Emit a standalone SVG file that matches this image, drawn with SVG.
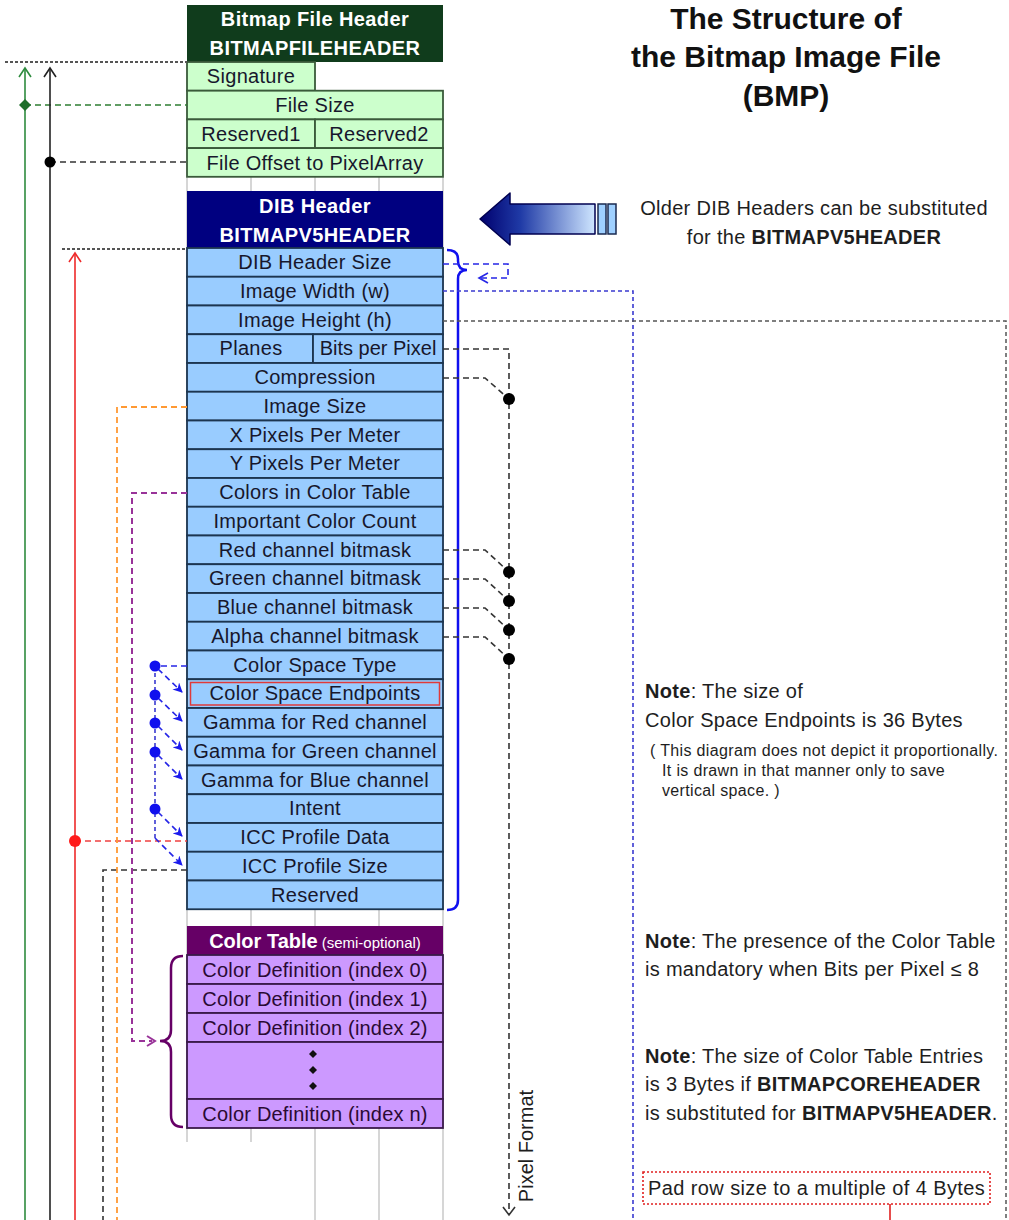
<svg xmlns="http://www.w3.org/2000/svg" width="1009" height="1220" viewBox="0 0 1009 1220">
<defs>
<style>
text{font-family:"Liberation Sans",Arial,Helvetica,sans-serif}
.row{font-size:20px;fill:#17172c;text-anchor:middle;letter-spacing:0.3px}
.prow{font-size:20px;fill:#2a0a33;text-anchor:middle;letter-spacing:0.2px}
.hd{font-size:20px;font-weight:bold;fill:#ffffff;text-anchor:middle;letter-spacing:0.4px}
.note{font-size:20px;fill:#1e1e1e;letter-spacing:0.3px}
.small{font-size:16px;fill:#1e1e1e;letter-spacing:0.35px}
.ttl{font-size:30px;font-weight:bold;fill:#111;text-anchor:middle}
.g{fill:#ccffcc;stroke:#3a5a3a;stroke-width:1.8}
.b{fill:#99ccff;stroke:#1c3550;stroke-width:1.8}
.p{fill:#cc99ff;stroke:#3a1a4a;stroke-width:1.8}
.grid{stroke:#c8c8c8;stroke-width:1.5}
.dk{fill:none;stroke:#333;stroke-width:1.6;stroke-dasharray:6 4}
.dot{fill:none;stroke:#555;stroke-width:2;stroke-dasharray:3 2}
.bl{fill:none;stroke:#2626e6;stroke-width:1.6;stroke-dasharray:6 4}
.bld{fill:none;stroke:#3a3ad0;stroke-width:1.6;stroke-dasharray:4 3}
</style>
<linearGradient id="ag" x1="0" y1="0" x2="1" y2="0">
<stop offset="0" stop-color="#00006e"/>
<stop offset="0.35" stop-color="#1f3aa6"/>
<stop offset="1" stop-color="#cfe6ff"/>
</linearGradient>
<marker id="ab" viewBox="0 0 10 10" refX="9" refY="5" markerWidth="6" markerHeight="6" orient="auto">
<path d="M0,0 L10,5 L0,10 L3,5 Z" fill="#1a1aee"/>
</marker>
</defs>
<rect width="1009" height="1220" fill="#ffffff"/>

<g id="grid">
<line class="grid" x1="187" y1="177" x2="187" y2="1142"/>
<line class="grid" x1="251" y1="177" x2="251" y2="1142"/>
<line class="grid" x1="315" y1="177" x2="315" y2="1220"/>
<line class="grid" x1="379" y1="177" x2="379" y2="1220"/>
<line class="grid" x1="443" y1="177" x2="443" y2="1220"/>
</g>

<g id="title">
<text class="ttl" x="786" y="29">The Structure of</text>
<text class="ttl" x="786" y="67">the Bitmap Image File</text>
<text class="ttl" x="786" y="106">(BMP)</text>
</g>

<g id="file-header">
<rect x="187" y="5" width="256" height="57" fill="#103c1c"/>
<text class="hd" x="315" y="26">Bitmap File Header</text>
<text class="hd" x="315" y="55">BITMAPFILEHEADER</text>
<rect class="g" x="187" y="62" width="128" height="28.7"/>
<text class="row" x="251" y="83">Signature</text>
<rect class="g" x="187" y="90.7" width="256" height="28.7"/>
<text class="row" x="315" y="112">File Size</text>
<rect class="g" x="187" y="119.4" width="128" height="28.7"/>
<rect class="g" x="315" y="119.4" width="128" height="28.7"/>
<text class="row" x="251" y="141">Reserved1</text>
<text class="row" x="379" y="141">Reserved2</text>
<rect class="g" x="187" y="148.1" width="256" height="28.7"/>
<text class="row" x="315" y="169.5">File Offset to PixelArray</text>
</g>

<g id="dib-header">
<rect x="187" y="191" width="256" height="57" fill="#000080"/>
<text class="hd" x="315" y="213">DIB Header</text>
<text class="hd" x="315" y="242">BITMAPV5HEADER</text>
<rect class="b" x="187" y="248" width="256" height="28.75"/>
<text class="row" x="315" y="269">DIB Header Size</text>
<rect class="b" x="187" y="276.75" width="256" height="28.75"/>
<text class="row" x="315" y="298">Image Width (w)</text>
<rect class="b" x="187" y="305.5" width="256" height="28.75"/>
<text class="row" x="315" y="326.5">Image Height (h)</text>
<rect class="b" x="187" y="334.25" width="126" height="28.75"/>
<rect class="b" x="313" y="334.25" width="130" height="28.75"/>
<text class="row" x="251" y="355">Planes</text>
<text class="row" x="378" y="355" style="letter-spacing:0">Bits per Pixel</text>
<rect class="b" x="187" y="363" width="256" height="28.75"/>
<text class="row" x="315" y="384">Compression</text>
<rect class="b" x="187" y="391.75" width="256" height="28.75"/>
<text class="row" x="315" y="413">Image Size</text>
<rect class="b" x="187" y="420.5" width="256" height="28.75"/>
<text class="row" x="315" y="441.5">X Pixels Per Meter</text>
<rect class="b" x="187" y="449.25" width="256" height="28.75"/>
<text class="row" x="315" y="470">Y Pixels Per Meter</text>
<rect class="b" x="187" y="478" width="256" height="28.75"/>
<text class="row" x="315" y="499">Colors in Color Table</text>
<rect class="b" x="187" y="506.75" width="256" height="28.75"/>
<text class="row" x="315" y="528">Important Color Count</text>
<rect class="b" x="187" y="535.5" width="256" height="28.75"/>
<text class="row" x="315" y="556.5">Red channel bitmask</text>
<rect class="b" x="187" y="564.25" width="256" height="28.75"/>
<text class="row" x="315" y="585">Green channel bitmask</text>
<rect class="b" x="187" y="593" width="256" height="28.75"/>
<text class="row" x="315" y="614">Blue channel bitmask</text>
<rect class="b" x="187" y="621.75" width="256" height="28.75"/>
<text class="row" x="315" y="643">Alpha channel bitmask</text>
<rect class="b" x="187" y="650.5" width="256" height="28.75"/>
<text class="row" x="315" y="671.5">Color Space Type</text>
<rect class="b" x="187" y="679.25" width="256" height="28.75"/>
<rect x="190.5" y="682.5" width="249" height="22.5" fill="none" stroke="#e03a3a" stroke-width="1.5"/>
<text class="row" x="315" y="700">Color Space Endpoints</text>
<rect class="b" x="187" y="708" width="256" height="28.75"/>
<text class="row" x="315" y="729">Gamma for Red channel</text>
<rect class="b" x="187" y="736.75" width="256" height="28.75"/>
<text class="row" x="315" y="758">Gamma for Green channel</text>
<rect class="b" x="187" y="765.5" width="256" height="28.75"/>
<text class="row" x="315" y="786.5">Gamma for Blue channel</text>
<rect class="b" x="187" y="794.25" width="256" height="28.75"/>
<text class="row" x="315" y="815">Intent</text>
<rect class="b" x="187" y="823" width="256" height="28.75"/>
<text class="row" x="315" y="844">ICC Profile Data</text>
<rect class="b" x="187" y="851.75" width="256" height="28.75"/>
<text class="row" x="315" y="873">ICC Profile Size</text>
<rect class="b" x="187" y="880.5" width="256" height="28.75"/>
<text class="row" x="315" y="901.5">Reserved</text>
</g>

<g id="color-table">
<rect x="187" y="926" width="256" height="29" fill="#660066"/>
<text x="315" y="948" text-anchor="middle" fill="#fff"><tspan font-size="20" font-weight="bold">Color Table</tspan><tspan font-size="15" dx="4">(semi-optional)</tspan></text>
<rect class="p" x="187" y="955" width="256" height="29"/>
<text class="prow" x="315" y="977">Color Definition (index 0)</text>
<rect class="p" x="187" y="984" width="256" height="29"/>
<text class="prow" x="315" y="1006">Color Definition (index 1)</text>
<rect class="p" x="187" y="1013" width="256" height="29"/>
<text class="prow" x="315" y="1035">Color Definition (index 2)</text>
<rect class="p" x="187" y="1042" width="256" height="57"/>
<path d="M313,1050 l4,4 l-4,4 l-4,-4 Z M313,1066 l4,4 l-4,4 l-4,-4 Z M313,1082 l4,4 l-4,4 l-4,-4 Z" fill="#111"/>
<rect class="p" x="187" y="1099" width="256" height="29"/>
<text class="prow" x="315" y="1121">Color Definition (index n)</text>
</g>

<g id="substitute-arrow">
<path d="M480,219 L510,193 L510,204 L595,204 L595,234 L510,234 L510,245 Z" fill="url(#ag)" stroke="#000050" stroke-width="1.5" stroke-linejoin="round"/>
<rect x="598" y="204" width="8" height="30" fill="#9fd0ff" stroke="#1a2a50" stroke-width="1.5"/>
<rect x="608" y="204" width="8" height="30" fill="#9fd0ff" stroke="#1a2a50" stroke-width="1.5"/>
<text class="note" x="814" y="215" text-anchor="middle">Older DIB Headers can be substituted</text>
<text class="note" x="814" y="244" text-anchor="middle">for the <tspan font-weight="bold">BITMAPV5HEADER</tspan></text>
</g>

<g id="notes">
<text class="note" x="645" y="698"><tspan font-weight="bold">Note</tspan>: The size of</text>
<text class="note" x="645" y="727">Color Space Endpoints is 36 Bytes</text>
<text class="small" x="650" y="756">( This diagram does not depict it proportionally.</text>
<text class="small" x="662" y="776">It is drawn in that manner only to save</text>
<text class="small" x="662" y="796">vertical space. )</text>
<text class="note" x="645" y="948"><tspan font-weight="bold">Note</tspan>: The presence of the Color Table</text>
<text class="note" x="645" y="976">is mandatory when Bits per Pixel ≤ 8</text>
<text class="note" x="645" y="1063"><tspan font-weight="bold">Note</tspan>: The size of Color Table Entries</text>
<text class="note" x="645" y="1091">is 3 Bytes if <tspan font-weight="bold">BITMAPCOREHEADER</tspan></text>
<text class="note" x="645" y="1120">is substituted for <tspan font-weight="bold">BITMAPV5HEADER</tspan>.</text>
<rect x="643" y="1172" width="347" height="32" fill="none" stroke="#e02020" stroke-width="1.6" stroke-dasharray="2 2"/>
<text class="note" x="648" y="1195" style="letter-spacing:0.4px">Pad row size to a multiple of 4 Bytes</text>
<text x="533" y="1146" transform="rotate(-90 533 1146)" text-anchor="middle" font-size="20" fill="#1e1e1e">Pixel Format</text>
</g>

<g id="connectors">
<line class="dot" x1="5" y1="62" x2="187" y2="62"/>
<line class="dot" x1="62" y1="249" x2="187" y2="249"/>
<line x1="25" y1="68" x2="25" y2="1220" stroke="#2e8b3e" stroke-width="1.6"/>
<polyline points="19,77 25,68 31,77" fill="none" stroke="#2e8b3e" stroke-width="1.6"/>
<line x1="25" y1="105" x2="187" y2="105" stroke="#2e7d32" stroke-width="1.6" stroke-dasharray="6 4"/>
<path d="M25,99 L31,105 L25,111 L19,105 Z" fill="#1e6e2a"/>
<line x1="50" y1="68" x2="50" y2="1220" stroke="#222" stroke-width="1.6"/>
<polyline points="44,77 50,68 56,77" fill="none" stroke="#222" stroke-width="1.6"/>
<line class="dk" x1="50" y1="162" x2="187" y2="162"/>
<circle cx="50" cy="162" r="5.5" fill="#000"/>
<line x1="75" y1="253" x2="75" y2="1220" stroke="#ee2a2a" stroke-width="1.6"/>
<polyline points="69,262 75,253 81,262" fill="none" stroke="#ee2a2a" stroke-width="1.6"/>
<line x1="75" y1="841" x2="187" y2="841" stroke="#f04040" stroke-width="1.6" stroke-dasharray="6 4"/>
<circle cx="75" cy="841" r="6" fill="#ff1a1a"/>
<path class="dk" d="M187,870 H103 V1220" stroke="#444"/>
<path d="M187,407 H117 V1220" fill="none" stroke="#ff9933" stroke-width="1.8" stroke-dasharray="6 4"/>
<path d="M187,493 H132 V1041 H152" fill="none" stroke="#993399" stroke-width="2" stroke-dasharray="6 4"/>
<polyline points="147,1036 155,1041 147,1046" fill="none" stroke="#993399" stroke-width="2"/>
<path d="M183,956 Q171,956 171,968 L171,1030 Q171,1041 160,1041 Q171,1041 171,1052 L171,1115 Q171,1127 183,1127" fill="none" stroke="#660066" stroke-width="2.5"/>
<path d="M447,250 Q458,250 458,259 L458,261 Q458,270 467,270 Q458,270 458,279 L458,900 Q458,910 447,910" fill="none" stroke="#1010ee" stroke-width="2.5"/>
<path class="bl" d="M443,264 H508 V278 H480"/>
<polyline points="488,273 479,278 488,283" fill="none" stroke="#2626e6" stroke-width="1.6"/>
<path class="bld" d="M443,291 H633 V1220"/>
<path d="M443,321 H1006 V1220" fill="none" stroke="#555" stroke-width="1.5" stroke-dasharray="4 3"/>
<path class="dk" d="M443,349 H509 V1214"/>
<polyline points="503,1207 509,1215 515,1207" fill="none" stroke="#333" stroke-width="1.6"/>
<path class="dk" d="M443,378 H485 L509,399"/>
<path class="dk" d="M443,550 H485 L509,572"/>
<path class="dk" d="M443,579 H485 L509,601"/>
<path class="dk" d="M443,608 H485 L509,630"/>
<path class="dk" d="M443,637 H485 L509,659"/>
<circle cx="509" cy="399" r="6" fill="#000"/>
<circle cx="509" cy="572" r="6" fill="#000"/>
<circle cx="509" cy="601" r="6" fill="#000"/>
<circle cx="509" cy="630" r="6" fill="#000"/>
<circle cx="509" cy="659" r="6" fill="#000"/>
<line x1="890" y1="1204" x2="890" y2="1220" stroke="#e02020" stroke-width="1.6"/>
<line class="bl" x1="187" y1="666" x2="155" y2="666"/>
<path class="bld" d="M155,666 V838"/>
<line class="bl" x1="158" y1="669" x2="182" y2="692" marker-end="url(#ab)"/>
<line class="bl" x1="158" y1="698" x2="182" y2="721" marker-end="url(#ab)"/>
<line class="bl" x1="158" y1="726" x2="182" y2="750" marker-end="url(#ab)"/>
<line class="bl" x1="158" y1="755" x2="182" y2="779" marker-end="url(#ab)"/>
<line class="bl" x1="158" y1="812" x2="182" y2="836" marker-end="url(#ab)"/>
<path class="bl" d="M155,838 L182,865" marker-end="url(#ab)"/>
<circle cx="155" cy="666" r="5.5" fill="#1010ee"/>
<circle cx="155" cy="695" r="5.5" fill="#1010ee"/>
<circle cx="155" cy="723" r="5.5" fill="#1010ee"/>
<circle cx="155" cy="752" r="5.5" fill="#1010ee"/>
<circle cx="155" cy="809" r="5.5" fill="#1010ee"/>
</g>
</svg>
